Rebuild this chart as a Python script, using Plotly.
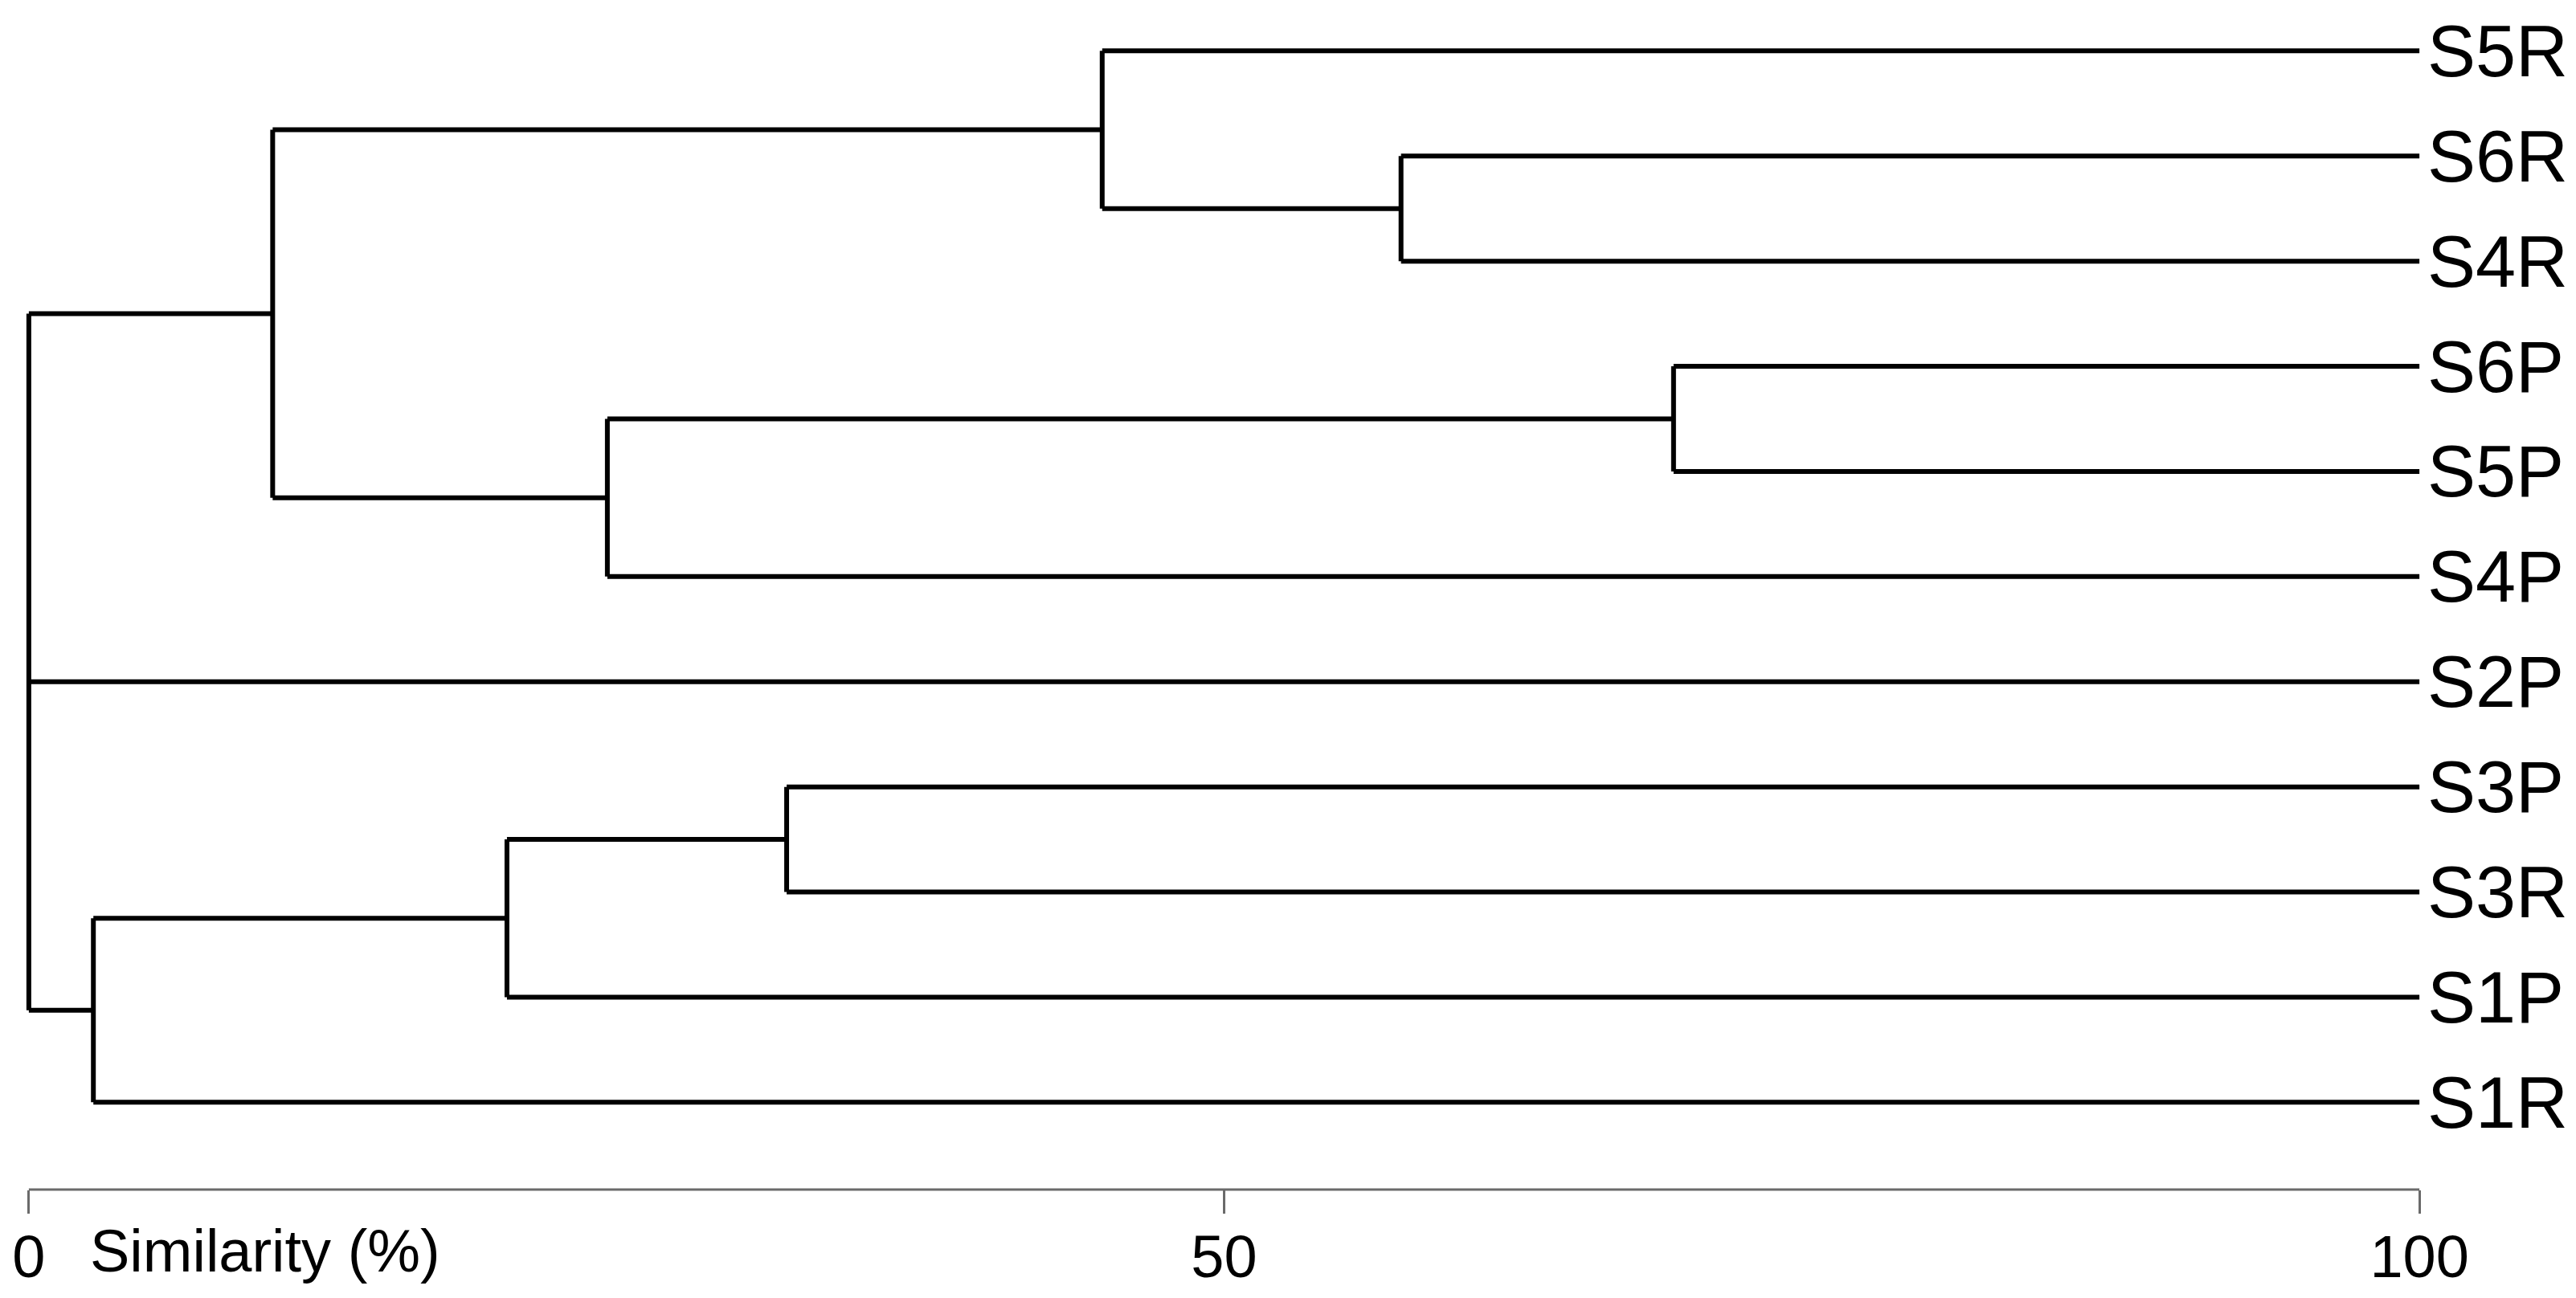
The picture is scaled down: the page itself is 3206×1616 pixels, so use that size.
"""Dendrogram of sample similarity (S1-S6, P/R), drawn with plain Plotly lines."""

import plotly.graph_objects as go

# Leaves, top to bottom
LEAVES = ["S5R", "S6R", "S4R", "S6P", "S5P", "S4P", "S2P", "S3P", "S3R", "S1P", "S1R"]

# Cluster joins: name, children, similarity (%) at which they join
NODE_NAMES = ["A", "B", "C", "D", "E", "F", "G", "H", "root"]
NODE_CHILDREN = [
    ["S6R", "S4R"],
    ["S5R", "A"],
    ["S6P", "S5P"],
    ["C", "S4P"],
    ["B", "D"],
    ["S3P", "S3R"],
    ["F", "S1P"],
    ["G", "S1R"],
    ["E", "S2P", "H"],
]
NODE_SIMILARITY = [57.4, 44.9, 68.8, 24.2, 10.2, 31.7, 20.0, 2.7, 0.0]

X_TICKS = [0, 50, 100]
LEAF_LEVEL = 100

FONT = "Liberation Sans, Arial, sans-serif"

# positions of leaves / nodes along the (reversed) y axis
ypos = {name: i for i, name in enumerate(LEAVES)}
level = {name: LEAF_LEVEL for name in LEAVES}
for name, kids, sim in zip(NODE_NAMES, NODE_CHILDREN, NODE_SIMILARITY):
    ys = [ypos[k] for k in kids]
    ypos[name] = (min(ys) + max(ys)) / 2
    level[name] = sim

xs, ys = [], []
for name, kids, sim in zip(NODE_NAMES, NODE_CHILDREN, NODE_SIMILARITY):
    kid_y = [ypos[k] for k in kids]
    # vertical bar of the join
    xs += [sim, sim, None]
    ys += [min(kid_y), max(kid_y), None]
    # horizontal branch to each child
    for k in kids:
        xs += [sim, level[k], None]
        ys += [ypos[k], ypos[k], None]

fig = go.Figure(
    go.Scatter(
        x=xs,
        y=ys,
        mode="lines",
        line=dict(color="#000000", width=6),
        hoverinfo="skip",
        showlegend=False,
    )
)

fig.update_layout(
    width=3206,
    height=1616,
    paper_bgcolor="white",
    plot_bgcolor="white",
    margin=dict(l=13, r=188, t=3, b=143),
    font=dict(family=FONT, color="black"),
    showlegend=False,
)
fig.update_xaxes(
    range=[-0.5, 100.5],
    tickvals=X_TICKS,
    ticktext=[str(v) for v in X_TICKS],
    ticks="outside",
    ticklen=29,
    tickwidth=3,
    tickcolor="#6a6a6a",
    ticklabelstandoff=-10,
    tickfont=dict(size=74, family=FONT, color="black"),
    showline=False,
    showgrid=False,
    zeroline=False,
)
fig.update_yaxes(
    range=[10.83, -0.40],
    side="right",
    tickvals=list(range(len(LEAVES))),
    ticktext=LEAVES,
    ticks="",
    ticklabelstandoff=-6,
    tickfont=dict(size=90, family=FONT, color="black"),
    showline=False,
    showgrid=False,
    zeroline=False,
)

# axis baseline only between 0 and 100
fig.add_shape(
    type="line", xref="x", yref="paper", x0=X_TICKS[0], x1=X_TICKS[-1], y0=0, y1=0,
    line=dict(color="#6a6a6a", width=3),
)
fig.add_annotation(
    text="Similarity (%)", xref="x", yref="paper", x=2.5, y=0,
    xanchor="left", yanchor="middle", yshift=-76, showarrow=False,
    font=dict(size=74, family=FONT, color="black"),
)

fig.write_html("out.html")
